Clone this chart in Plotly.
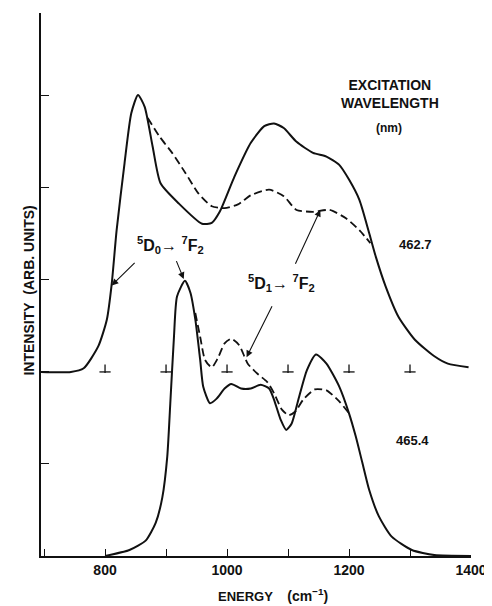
import plotly.graph_objects as go

# ---------------- data ----------------
# Upper spectrum (excitation 462.7 nm), offset baseline = 2
up_solid_x = [695, 744, 765, 789, 803, 811, 819, 832, 843, 854, 865, 878, 891, 921, 959, 975,
              988, 1012, 1039, 1061, 1077, 1093, 1114, 1141, 1163, 1184, 1200, 1217, 1233,
              1244, 1260, 1281, 1308, 1340, 1362, 1396]
up_solid_y = [2.0, 2.0, 2.04, 2.28, 2.57, 2.96, 3.54, 4.27, 4.81, 5.01, 4.88, 4.45, 4.05, 3.83,
              3.61, 3.62, 3.74, 4.12, 4.49, 4.67, 4.70, 4.65, 4.50, 4.38, 4.34, 4.25, 4.09,
              3.87, 3.51, 3.25, 2.93, 2.60, 2.35, 2.17, 2.09, 2.05]

up_dash_x = [870, 889, 910, 932, 953, 975, 996, 1018, 1039, 1069, 1093, 1114, 1141, 1168,
             1195, 1217, 1235]
up_dash_y = [4.76, 4.56, 4.38, 4.16, 3.94, 3.80, 3.78, 3.82, 3.92, 3.98, 3.91, 3.76, 3.74,
             3.76, 3.67, 3.54, 3.40]

# Lower spectrum (excitation 465.4 nm), baseline = 0
lo_solid_x = [800, 840, 867, 883, 894, 902, 907, 913, 918, 931, 940, 948, 956, 961, 972, 983,
              996, 1007, 1023, 1039, 1055, 1069, 1077, 1088, 1097, 1106, 1117, 1131, 1146,
              1163, 1184, 1200, 1211, 1222, 1233, 1249, 1270, 1303, 1340, 1400]
lo_solid_y = [0.0, 0.065, 0.17, 0.36, 0.64, 1.08, 1.66, 2.38, 2.82, 2.99, 2.86, 2.57, 2.13,
              1.84, 1.66, 1.71, 1.82, 1.87, 1.82, 1.82, 1.86, 1.82, 1.70, 1.48, 1.37, 1.44,
              1.70, 2.02, 2.19, 2.09, 1.84, 1.55, 1.30, 1.01, 0.72, 0.43, 0.21, 0.065, 0.01, 0.0]

lo_dash_x = [948, 956, 964, 975, 985, 996, 1007, 1020, 1034, 1050, 1066, 1077, 1090, 1101,
             1112, 1125, 1144, 1163, 1184, 1200]
lo_dash_y = [2.64, 2.38, 2.13, 2.05, 2.15, 2.31, 2.36, 2.29, 2.09, 1.98, 1.89, 1.77, 1.59,
             1.53, 1.57, 1.70, 1.81, 1.80, 1.68, 1.55]

baseline_marks = [800, 900, 1000, 1100, 1200, 1300]
upper_baseline = 2.0

x_tickvals = [800, 1000, 1200, 1400]
x_ticktext = ["800", "1000", "1200", "1400"]
y_tickvals = [1, 2, 3, 4, 5]

FONT = "Liberation Sans, Arial, sans-serif"
BLACK = "#111111"

fig = go.Figure()

line_solid = dict(color=BLACK, width=2, shape="spline", smoothing=0.6)
line_dash = dict(color=BLACK, width=1.8, shape="spline", smoothing=0.6, dash="8px,4px")

fig.add_trace(go.Scatter(x=up_solid_x, y=up_solid_y, mode="lines", line=line_solid,
                         showlegend=False, hoverinfo="skip"))
fig.add_trace(go.Scatter(x=up_dash_x, y=up_dash_y, mode="lines", line=line_dash,
                         showlegend=False, hoverinfo="skip"))
fig.add_trace(go.Scatter(x=lo_solid_x, y=lo_solid_y, mode="lines", line=line_solid,
                         showlegend=False, hoverinfo="skip"))
fig.add_trace(go.Scatter(x=lo_dash_x, y=lo_dash_y, mode="lines", line=line_dash,
                         showlegend=False, hoverinfo="skip"))

# inverted-T reference marks on the upper baseline
fig.add_trace(go.Scatter(x=baseline_marks, y=[upper_baseline] * len(baseline_marks),
                         mode="markers",
                         marker=dict(symbol="line-ew", size=8,
                                     line=dict(color=BLACK, width=1.3)),
                         showlegend=False, hoverinfo="skip"))
fig.add_trace(go.Scatter(x=baseline_marks, y=[upper_baseline + 0.035] * len(baseline_marks),
                         mode="markers",
                         marker=dict(symbol="line-ns", size=6,
                                     line=dict(color=BLACK, width=1.3)),
                         showlegend=False, hoverinfo="skip"))

ann = []
def txt(x, y, s, size=13, xref="x", yref="y", **kw):
    d = dict(x=x, y=y, xref=xref, yref=yref, text=s, showarrow=False,
             font=dict(family=FONT, size=size, color=BLACK, weight="bold"))
    d.update(kw)
    ann.append(d)

def arrow(x, y, ax, ay):
    ann.append(dict(x=x, y=y, ax=ax, ay=ay, xref="x", yref="y", axref="x", ayref="y",
                    text="", showarrow=True, arrowhead=2, arrowsize=1.2,
                    arrowwidth=1.1, arrowcolor=BLACK))

txt(1267, 5.02, "EXCITATION<br>WAVELENGTH", size=14)
txt(1265, 4.65, "(nm)", size=12)
txt(1309, 3.39, "462.7", size=13)
txt(1304, 1.26, "465.4", size=13)
txt(908, 3.38, "<sup>5</sup>D<sub>0</sub>\u2192 <sup>7</sup>F<sub>2</sub>", size=16)
txt(1090, 2.97, "<sup>5</sup>D<sub>1</sub>\u2192 <sup>7</sup>F<sub>2</sub>", size=16)

arrow(811, 2.94, 851, 3.20)
arrow(929, 3.01, 916, 3.22)
arrow(1153, 3.76, 1111, 3.16)
arrow(1032, 2.16, 1075, 2.73)

txt(1075, -0.092,
    "ENERGY&nbsp;&nbsp;&nbsp;&nbsp;<span style='font-size:14px'>(cm<sup>\u22121</sup>)</span>",
    size=13, yref="paper")
txt(-0.052, 2.88, "INTENSITY&nbsp;&nbsp;(ARB. UNITS)", size=14, xref="paper", textangle=-90)

# the page body has an 8px margin, so the figure is sized to fit inside the window
fig.update_layout(
    width=484, height=598,
    margin=dict(l=33, r=17, t=5, b=50),
    paper_bgcolor="white", plot_bgcolor="white",
    annotations=ann,
    xaxis=dict(range=[695, 1400], showgrid=False, zeroline=False, showline=True,
               linecolor=BLACK, linewidth=1.6, ticks="inside", ticklen=7, tickwidth=1.3,
               tickcolor=BLACK, tickvals=x_tickvals, ticktext=x_ticktext,
               minor=dict(dtick=100, tick0=700, ticks="inside", ticklen=7, tickwidth=1.3,
                          tickcolor=BLACK, showgrid=False),
               tickfont=dict(family=FONT, size=14, color=BLACK, weight="bold")),
    yaxis=dict(range=[0, 5.9], showgrid=False, zeroline=False, showline=True,
               linecolor=BLACK, linewidth=1.6, ticks="inside", ticklen=8, tickwidth=1.3,
               tickcolor=BLACK, tickvals=y_tickvals, showticklabels=False),
)

fig.write_html("out.html")
